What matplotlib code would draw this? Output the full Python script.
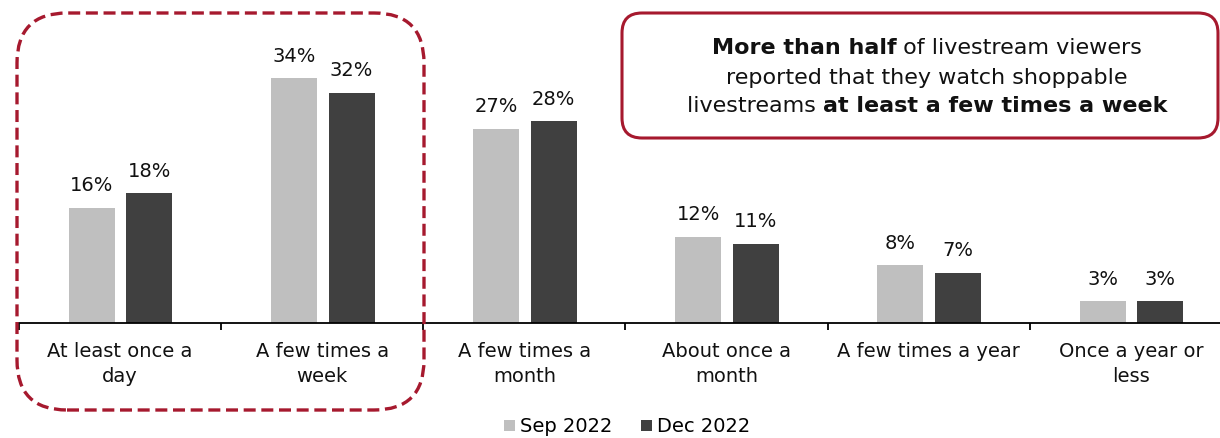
"""
Frequency of watching shoppable livestreams, Sep 2022 vs Dec 2022.
Writes out.png.
"""

import matplotlib

matplotlib.use("Agg")
import matplotlib.pyplot as plt
import numpy as np
from matplotlib.patches import FancyBboxPatch, Patch

categories = [
    "At least once a\nday",
    "A few times a\nweek",
    "A few times a\nmonth",
    "About once a\nmonth",
    "A few times a year",
    "Once a year or\nless",
]
sep_2022 = [16, 34, 27, 12, 8, 3]
dec_2022 = [18, 32, 28, 11, 7, 3]
series_names = ["Sep 2022", "Dec 2022"]

LIGHT = "#bfbfbf"
DARK = "#404040"
RED = "#a6192e"
W, H, DPI = 1220, 438, 100
FS = 14

plt.rcParams["font.family"] = ["DejaVu Sans"]


def px(x, y):
    """Pixel position measured from the top-left -> inches from bottom-left."""
    return x / DPI, (H - y) / DPI


def main() -> None:
    fig = plt.figure(figsize=(W / DPI, H / DPI), dpi=DPI)
    ax = fig.add_axes([19 / W, (H - 323) / H, 1213 / W, 288 / H])

    x = np.arange(len(categories))
    width = 0.228
    b1 = ax.bar(x - 0.14, sep_2022, width, color=LIGHT, label=series_names[0])
    b2 = ax.bar(x + 0.145, dec_2022, width, color=DARK, label=series_names[1])
    for bars, vals in ((b1, sep_2022), (b2, dec_2022)):
        for rect, v in zip(bars, vals):
            ax.annotate(f"{v}%", (rect.get_x() + rect.get_width() / 2, v),
                        xytext=(0, 9), textcoords="offset points",
                        ha="center", va="bottom", fontsize=FS, color="#111111")

    ax.set_xlim(-0.5, len(categories) - 0.5)
    ax.set_ylim(0, 40)
    for side in ("top", "right", "left"):
        ax.spines[side].set_visible(False)
    ax.spines["bottom"].set_linewidth(1.3)
    ax.set_yticks([])
    ax.set_xticks(np.arange(len(categories) + 1) - 0.5)
    ax.set_xticklabels([])
    ax.tick_params(axis="x", which="major", length=5, width=1.3, direction="out")
    ax.set_xticks(x, minor=True)
    ax.set_xticklabels(categories, minor=True, fontsize=FS, linespacing=1.4,
                       color="#111111")
    ax.tick_params(axis="x", which="minor", length=0, pad=14)

    # dashed frame around the two most frequent groups
    x0, y0 = px(17, 410)
    x1, y1 = px(424, 13)
    frame = FancyBboxPatch((x0, y0), x1 - x0, y1 - y0,
                           boxstyle="round,pad=0,rounding_size=0.5",
                           transform=fig.dpi_scale_trans, fill=False,
                           edgecolor=RED, linewidth=2.4, linestyle=(0, (3.6, 1.7)),
                           clip_on=False)
    fig.add_artist(frame)

    # callout box
    x0, y0 = px(622, 138)
    x1, y1 = px(1218, 13)
    box = FancyBboxPatch((x0, y0), x1 - x0, y1 - y0,
                         boxstyle="round,pad=0,rounding_size=0.2",
                         transform=fig.dpi_scale_trans, facecolor="white",
                         edgecolor=RED, linewidth=2.2, clip_on=False)
    fig.add_artist(box)

    lines = [
        [("More than half", "bold"), (" of livestream viewers", "normal")],
        [("reported that they watch shoppable", "normal")],
        [("livestreams ", "normal"), ("at least a few times a week", "bold")],
    ]
    line_y = [48, 78, 106]
    renderer = fig.canvas.get_renderer()
    for parts, ly in zip(lines, line_y):
        texts = []
        for s, weight in parts:
            t = fig.text(0, 0, s, fontsize=16, fontweight=weight, color="#111111",
                         ha="left", va="center", transform=fig.dpi_scale_trans)
            texts.append(t)
        widths = [t.get_window_extent(renderer).width for t in texts]
        cx, cy = px(927, ly)
        start = cx - sum(widths) / DPI / 2
        for t, w in zip(texts, widths):
            t.set_position((start, cy))
            start += w / DPI

    handles = [Patch(facecolor=LIGHT), Patch(facecolor=DARK)]
    fig.legend(handles, series_names, loc="center", bbox_to_anchor=(627 / W, (H - 427) / H),
               ncol=2, frameon=False, fontsize=FS, handlelength=0.55, handleheight=0.55,
               handletextpad=0.25, columnspacing=1.5)

    fig.savefig("out.png", dpi=DPI)
    plt.close(fig)


if __name__ == "__main__":
    main()
